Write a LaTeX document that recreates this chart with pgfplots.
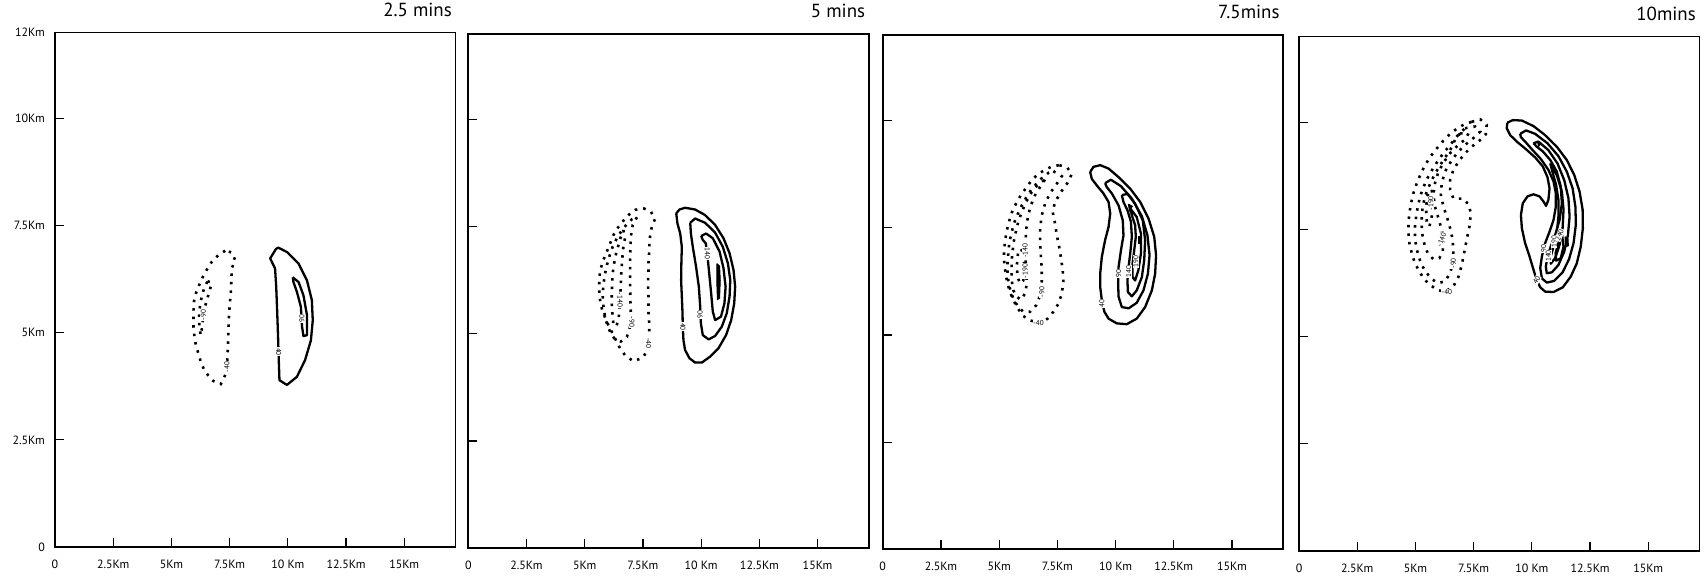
\documentclass[border=0pt]{standalone}
\usepackage{fontspec}
\setmainfont{PT Sans}
\usepackage{pgfplots}
\pgfplotsset{compat=1.18}
\pgfplotsset{
  panel/.style={scale only axis, width=400.5bp, height=514.5bp,
    xmin=0, xmax=17.2, ymin=0, ymax=12, anchor=south west, clip=false,
    axis line style={line width=1.9bp},
    tick align=inside, tick pos=left, major tick length=9bp,
    every tick/.style={black, line width=1.2bp},
    xtick={0,2.5,5,7.5,10,12.5,15},
    xticklabels={0,2.5Km,5Km,7.5Km,10 Km,12.5Km,15Km},
    ytick={0,2.5,5,7.5,10,12},
    yticklabels={0,2.5Km,5Km,7.5Km,10Km,12Km},
    ticklabel style={font=\fontsize{12}{12}\selectfont},
    xticklabel style={anchor=base, inner sep=0pt, yshift=-21bp},
    yticklabel style={anchor=east, inner sep=0pt, xshift=-10bp},
    title style={at={(1,1)}, anchor=base east, inner sep=0pt, xshift=-3.5bp, yshift=10bp, font=\fontsize{19}{22}\selectfont},
  },
  pos/.style={draw=black, line width=2.3bp, line join=round, mark=none},
  neg/.style={draw=black, line width=2.6bp, dash pattern=on 2.5bp off 6bp, mark=none},
  blob/.style={draw=black, fill=black, line width=1bp, mark=none},
}
\tikzset{clab/.style={font=\fontsize{7.2}{7.2}\selectfont, fill=white, inner sep=0.6bp}}
\begin{document}
\begin{tikzpicture}
\path[use as bounding box] (0bp,0bp) rectangle (1706bp,-579bp);

% ---------------- Panel 1: 2.5 mins
\begin{axis}[panel, at={(55bp,-547bp)}, title={2.5 mins}]
\addplot[pos] coordinates {(9.50,6.96)(9.24,6.73)(9.45,6.50)(9.50,6.07)(9.54,5.52)(9.58,4.90)(9.61,4.36)(9.64,3.89)(9.96,3.78)(10.39,3.97)(10.74,4.36)(10.99,4.82)(11.07,5.29)(11.03,5.76)(10.82,6.22)(10.46,6.61)(9.96,6.88)(9.60,6.98)(9.50,6.96)};
\addplot[pos] coordinates {(10.21,6.29)(10.46,6.18)(10.67,5.87)(10.82,5.41)(10.82,4.94)(10.67,4.92)(10.61,5.14)(10.56,5.60)(10.39,5.95)(10.24,6.18)(10.21,6.29)};
\addplot[neg] coordinates {(7.31,6.91)(7.02,6.81)(6.73,6.65)(6.52,6.47)(6.35,6.30)(6.20,6.12)(6.06,5.93)(5.97,5.73)(5.95,5.52)(5.95,5.31)(5.95,5.12)(5.99,4.90)(6.05,4.71)(6.16,4.51)(6.26,4.32)(6.40,4.14)(6.62,3.97)(6.80,3.87)(7.12,3.80)(7.38,4.09)(7.41,4.47)(7.44,4.89)(7.46,5.29)(7.51,5.70)(7.55,5.91)(7.58,6.30)(7.59,6.50)(7.74,6.69)(7.59,6.87)(7.31,6.91)};
\addplot[neg] coordinates {(6.55,6.20)(6.73,6.16)(6.63,5.95)(6.52,5.76)(6.40,5.52)(6.35,5.29)(6.30,5.06)(6.26,4.94)(6.20,5.14)(6.19,5.41)(6.23,5.64)(6.30,5.83)(6.40,6.03)(6.55,6.20)};
\node[clab, rotate=-90] at (axis cs:9.60,4.55) {40};
\node[clab, rotate=90] at (axis cs:10.60,5.33) {90};
\node[clab, rotate=90] at (axis cs:6.37,5.41) {-90};
\node[clab, rotate=90] at (axis cs:7.38,4.20) {-40};
\end{axis}

% ---------------- Panel 2: 5 mins
\begin{axis}[panel, at={(468.3bp,-548.2bp)}, title={5 mins}, yticklabels={}]
\addplot[pos] coordinates {(8.93,7.81)(8.98,7.58)(9.10,7.34)(9.17,7.03)(9.15,6.64)(9.14,6.25)(9.17,5.87)(9.20,5.48)(9.21,5.17)(9.24,4.85)(9.31,4.62)(9.50,4.43)(9.74,4.33)(10.03,4.33)(10.39,4.47)(10.74,4.66)(11.07,4.97)(11.29,5.32)(11.42,5.71)(11.46,6.10)(11.39,6.49)(11.22,6.88)(10.96,7.23)(10.60,7.54)(10.17,7.77)(9.74,7.90)(9.31,7.94)(9.07,7.90)(8.93,7.81)};
\addplot[pos] coordinates {(9.53,7.59)(9.74,7.69)(10.17,7.59)(10.60,7.36)(10.93,7.03)(11.15,6.64)(11.25,6.25)(11.22,5.87)(11.10,5.48)(10.89,5.17)(10.60,4.95)(10.32,4.87)(10.07,4.97)(9.99,5.24)(9.96,5.63)(9.90,6.10)(9.78,6.57)(9.64,7.03)(9.56,7.34)(9.53,7.59)};
\addplot[pos] coordinates {(10.00,7.28)(10.21,7.34)(10.50,7.23)(10.79,6.92)(10.96,6.53)(11.05,6.10)(11.00,5.71)(10.85,5.40)(10.60,5.32)(10.50,5.52)(10.43,5.94)(10.36,6.33)(10.29,6.72)(10.20,7.11)(10.07,7.19)(10.00,7.28)};
\addplot[blob] coordinates {(10.67,6.64)(10.79,6.58)(10.82,6.25)(10.79,5.83)(10.70,5.80)(10.67,6.25)(10.67,6.64)};
\addplot[neg] coordinates {(7.52,7.93)(7.84,7.85)(8.02,7.68)(7.88,7.50)(7.81,7.30)(7.78,7.11)(7.77,6.92)(7.74,6.68)(7.74,6.49)(7.72,6.25)(7.72,6.06)(7.74,5.86)(7.74,5.67)(7.74,5.48)(7.77,5.24)(7.77,5.01)(7.71,4.62)(7.48,4.44)(7.09,4.36)(6.73,4.50)(6.48,4.70)(6.28,4.92)(6.12,5.09)(5.95,5.28)(5.80,5.48)(5.69,5.67)(5.63,5.90)(5.62,6.10)(5.63,6.33)(5.69,6.53)(5.80,6.72)(5.95,6.92)(6.09,7.11)(6.23,7.30)(6.40,7.46)(6.63,7.62)(6.88,7.77)(7.16,7.89)(7.52,7.93)};
\addplot[neg] coordinates {(7.24,7.72)(7.06,7.54)(6.99,7.30)(6.96,7.03)(6.95,6.72)(6.95,6.41)(6.95,6.10)(6.96,5.79)(6.98,5.48)(6.95,5.17)(6.81,4.93)(6.55,4.82)(6.30,4.87)(6.12,5.01)(5.97,5.20)(5.86,5.44)(5.80,5.67)(5.77,5.90)(5.80,6.14)(5.86,6.37)(5.95,6.60)(6.06,6.81)(6.20,7.03)(6.38,7.23)(6.59,7.41)(6.81,7.56)(7.02,7.67)(7.24,7.72)};
\addplot[neg] coordinates {(6.66,7.42)(6.73,7.23)(6.66,7.03)(6.62,6.80)(6.59,6.57)(6.56,6.33)(6.55,6.10)(6.52,5.86)(6.49,5.55)(6.45,5.32)(6.35,5.17)(6.23,5.24)(6.19,5.48)(6.16,5.71)(6.16,5.94)(6.18,6.18)(6.20,6.41)(6.26,6.64)(6.35,6.88)(6.45,7.07)(6.55,7.26)(6.63,7.38)(6.66,7.42)};
\node[clab, rotate=-90] at (axis cs:9.21,5.16) {40};
\node[clab, rotate=90] at (axis cs:9.96,5.44) {90};
\node[clab, rotate=-90] at (axis cs:10.27,6.88) {140};
\node[clab, rotate=-90] at (axis cs:7.74,4.78) {-40};
\node[clab, rotate=-90] at (axis cs:7.02,5.28) {-90};
\node[clab, rotate=-90] at (axis cs:6.52,5.79) {-140};
\end{axis}

% ---------------- Panel 3: 7.5mins
\begin{axis}[panel, at={(882.7bp,-549.3bp)}, title={7.5mins}, yticklabels={}]
\addplot[pos] coordinates {(8.91,8.80)(9.05,8.92)(9.34,8.96)(9.70,8.88)(10.13,8.68)(10.63,8.41)(11.06,8.10)(11.42,7.71)(11.66,7.29)(11.74,6.86)(11.70,6.43)(11.56,6.04)(11.27,5.65)(10.91,5.38)(10.48,5.25)(10.05,5.27)(9.70,5.38)(9.52,5.54)(9.41,5.81)(9.34,6.12)(9.34,6.43)(9.41,6.82)(9.55,7.21)(9.70,7.52)(9.77,7.83)(9.70,8.10)(9.48,8.30)(9.19,8.49)(8.98,8.64)(8.91,8.80)};
\addplot[pos] coordinates {(9.55,8.54)(9.80,8.62)(10.23,8.47)(10.70,8.18)(11.13,7.77)(11.37,7.32)(11.46,6.86)(11.39,6.43)(11.20,6.04)(10.91,5.75)(10.56,5.62)(10.27,5.65)(10.13,5.89)(10.11,6.20)(10.13,6.59)(10.23,6.97)(10.34,7.32)(10.31,7.67)(10.13,8.02)(9.84,8.30)(9.62,8.45)(9.55,8.54)};
\addplot[pos] coordinates {(10.27,8.26)(10.51,8.29)(10.84,8.06)(11.17,7.67)(11.27,7.21)(11.23,6.74)(11.13,6.35)(10.91,6.04)(10.70,5.90)(10.53,6.00)(10.51,6.27)(10.56,6.59)(10.63,6.90)(10.70,7.29)(10.66,7.64)(10.51,7.91)(10.34,8.10)(10.27,8.26)};
\addplot[pos] coordinates {(10.63,7.95)(10.91,7.75)(11.09,7.36)(11.09,6.90)(10.98,6.51)(10.84,6.27)(10.73,6.35)(10.73,6.66)(10.80,6.97)(10.87,7.29)(10.84,7.56)(10.70,7.79)(10.63,7.95)};
\addplot[blob] coordinates {(10.98,7.30)(11.13,7.30)(11.13,7.14)(10.98,7.14)(10.98,7.30)};
\addplot[blob] coordinates {(10.55,8.05)(10.72,8.00)(10.60,7.90)(10.55,8.05)};
\addplot[neg] coordinates {(7.59,8.96)(7.93,8.90)(8.12,8.75)(7.93,8.54)(7.69,8.36)(7.40,8.10)(7.30,7.87)(7.40,7.60)(7.48,7.32)(7.58,7.05)(7.66,6.78)(7.73,6.51)(7.76,6.24)(7.69,5.96)(7.55,5.73)(7.33,5.54)(7.08,5.38)(6.76,5.27)(6.33,5.34)(6.04,5.44)(5.76,5.65)(5.58,5.85)(5.44,6.04)(5.33,6.27)(5.26,6.51)(5.21,6.74)(5.21,6.97)(5.26,7.21)(5.33,7.44)(5.44,7.67)(5.58,7.91)(5.76,8.10)(5.97,8.29)(6.19,8.45)(6.40,8.61)(6.69,8.76)(6.97,8.85)(7.26,8.93)(7.59,8.96)};
\addplot[neg] coordinates {(7.33,8.82)(7.69,8.70)(7.48,8.53)(7.19,8.31)(6.97,8.06)(6.83,7.79)(6.76,7.48)(6.76,7.17)(6.79,6.86)(6.83,6.55)(6.83,6.24)(6.76,5.92)(6.59,5.69)(6.33,5.54)(6.04,5.54)(5.83,5.65)(5.64,5.81)(5.50,6.00)(5.40,6.24)(5.36,6.47)(5.36,6.70)(5.40,6.94)(5.44,7.17)(5.54,7.40)(5.64,7.61)(5.79,7.81)(5.97,8.02)(6.16,8.20)(6.36,8.37)(6.62,8.54)(6.87,8.68)(7.12,8.78)(7.33,8.82)};
\addplot[neg] coordinates {(6.97,8.62)(6.76,8.45)(6.54,8.26)(6.36,8.02)(6.23,7.75)(6.16,7.44)(6.13,7.13)(6.13,6.82)(6.16,6.51)(6.19,6.20)(6.11,5.96)(5.93,5.82)(5.76,5.89)(5.61,6.04)(5.54,6.27)(5.53,6.51)(5.54,6.74)(5.58,6.97)(5.64,7.21)(5.73,7.44)(5.84,7.67)(5.99,7.89)(6.16,8.10)(6.33,8.28)(6.54,8.43)(6.76,8.55)(6.97,8.62)};
\addplot[neg] coordinates {(6.04,6.90)(6.07,6.59)(6.04,6.27)(5.90,6.20)(5.79,6.35)(5.76,6.62)(5.81,6.90)(5.93,7.01)(6.04,6.90)};
\node[clab, rotate=90] at (axis cs:9.41,5.73) {40};
\node[clab, rotate=90] at (axis cs:10.13,6.43) {90};
\node[clab, rotate=90] at (axis cs:10.56,6.47) {140};
\node[clab, rotate=90] at (axis cs:10.87,6.72) {190};
\node[clab] at (axis cs:6.69,5.27) {-40};
\node[clab, rotate=90] at (axis cs:6.83,6.00) {-90};
\node[clab, rotate=90] at (axis cs:6.12,6.97) {-140};
\node[clab, rotate=90] at (axis cs:6.12,6.49) {-190};
\end{axis}

% ---------------- Panel 4: 10mins
\begin{axis}[panel, at={(1299bp,-551bp)}, title={10mins}, yticklabels={}]
\addplot[pos] coordinates {(8.95,9.99)(9.18,10.05)(9.57,10.04)(10.07,9.91)(10.57,9.70)(11.07,9.43)(11.50,9.12)(11.82,8.77)(12.05,8.38)(12.18,7.96)(12.19,7.53)(12.10,7.10)(11.93,6.71)(11.67,6.40)(11.33,6.15)(10.93,6.04)(10.57,6.05)(10.36,6.15)(10.21,6.32)(10.07,6.56)(9.90,6.87)(9.71,7.18)(9.57,7.53)(9.53,7.84)(9.61,8.11)(9.81,8.27)(10.07,8.32)(10.33,8.27)(10.50,8.15)(10.61,8.05)(10.71,8.19)(10.76,8.46)(10.67,8.72)(10.47,8.97)(10.14,9.18)(9.75,9.37)(9.35,9.55)(9.07,9.70)(8.92,9.86)(8.95,9.99)};
\addplot[pos] coordinates {(9.50,9.73)(9.75,9.81)(10.14,9.73)(10.67,9.51)(11.14,9.21)(11.50,8.85)(11.75,8.46)(11.87,8.03)(11.89,7.61)(11.79,7.18)(11.60,6.81)(11.32,6.50)(10.96,6.30)(10.64,6.26)(10.43,6.36)(10.36,6.60)(10.43,6.87)(10.57,7.18)(10.76,7.45)(10.93,7.72)(11.03,8.03)(11.03,8.34)(10.93,8.62)(10.71,8.89)(10.39,9.14)(10.00,9.37)(9.71,9.55)(9.53,9.65)(9.50,9.73)};
\addplot[pos] coordinates {(10.07,9.51)(10.28,9.55)(10.71,9.35)(11.10,9.04)(11.39,8.65)(11.57,8.23)(11.62,7.80)(11.55,7.37)(11.39,6.98)(11.14,6.67)(10.86,6.50)(10.64,6.48)(10.60,6.63)(10.67,6.87)(10.81,7.10)(11.00,7.37)(11.19,7.72)(11.29,8.11)(11.24,8.50)(11.07,8.85)(10.79,9.12)(10.47,9.32)(10.21,9.43)(10.07,9.51)};
\addplot[pos] coordinates {(10.79,9.04)(11.07,8.77)(11.29,8.38)(11.36,7.96)(11.32,7.53)(11.19,7.14)(11.00,6.83)(10.81,6.70)(10.81,6.87)(10.93,7.10)(11.07,7.41)(11.14,7.80)(11.14,8.19)(11.04,8.54)(10.90,8.81)(10.79,9.04)};
\addplot[pos] coordinates {(11.29,7.41)(11.36,7.10)(11.24,6.83)(11.04,6.77)(11.02,6.95)(11.14,7.18)(11.29,7.41)};
\addplot[blob] coordinates {(11.43,7.33)(11.55,7.28)(11.57,7.12)(11.47,7.10)(11.43,7.20)(11.43,7.33)};
\addplot[blob] coordinates {(10.25,9.55)(10.38,9.50)(10.28,9.43)(10.25,9.55)};
\addplot[neg] coordinates {(7.42,10.01)(7.78,10.07)(8.06,9.94)(8.02,9.72)(7.75,9.57)(7.42,9.43)(7.10,9.26)(6.85,9.08)(6.63,8.89)(6.49,8.66)(6.49,8.42)(6.63,8.22)(7.03,8.22)(7.28,8.09)(7.38,7.87)(7.32,7.57)(7.20,7.26)(7.09,6.95)(6.99,6.67)(6.85,6.40)(6.63,6.17)(6.27,6.05)(5.92,6.09)(5.63,6.21)(5.37,6.34)(5.17,6.52)(4.98,6.71)(4.84,6.95)(4.74,7.18)(4.70,7.41)(4.70,7.65)(4.74,7.88)(4.81,8.11)(4.91,8.34)(5.06,8.58)(5.23,8.80)(5.41,9.00)(5.66,9.21)(5.92,9.39)(6.20,9.57)(6.49,9.73)(6.80,9.86)(7.13,9.96)(7.42,10.01)};
\addplot[neg] coordinates {(7.13,9.86)(7.56,9.90)(7.78,9.78)(7.49,9.63)(7.13,9.47)(6.80,9.29)(6.52,9.08)(6.27,8.85)(6.13,8.58)(6.09,8.31)(6.20,8.03)(6.35,7.80)(6.49,7.53)(6.60,7.26)(6.63,6.98)(6.60,6.71)(6.49,6.48)(6.27,6.29)(5.99,6.25)(5.70,6.34)(5.46,6.50)(5.27,6.67)(5.13,6.88)(5.03,7.10)(4.98,7.33)(4.98,7.57)(5.03,7.80)(5.10,8.03)(5.20,8.27)(5.34,8.48)(5.51,8.69)(5.72,8.89)(5.94,9.08)(6.20,9.28)(6.49,9.47)(6.78,9.67)(7.13,9.86)};
\addplot[neg] coordinates {(6.92,9.74)(7.28,9.74)(7.13,9.60)(6.80,9.45)(6.49,9.28)(6.23,9.08)(5.99,8.85)(5.84,8.58)(5.77,8.31)(5.84,8.03)(5.99,7.76)(6.13,7.49)(6.20,7.22)(6.17,6.98)(6.03,6.83)(5.77,6.81)(5.56,6.91)(5.41,7.10)(5.31,7.33)(5.27,7.57)(5.27,7.80)(5.31,8.03)(5.41,8.27)(5.56,8.48)(5.74,8.69)(5.94,8.89)(6.20,9.12)(6.49,9.35)(6.70,9.59)(6.92,9.74)};
\addplot[neg] coordinates {(5.70,8.42)(5.77,8.11)(5.70,7.80)(5.60,7.57)(5.49,7.65)(5.46,7.96)(5.49,8.23)(5.60,8.41)(5.70,8.42)};
\node[clab, rotate=60] at (axis cs:10.21,6.32) {40};
\node[clab, rotate=90] at (axis cs:10.50,7.06) {90};
\node[clab, rotate=90] at (axis cs:10.71,6.88) {140};
\node[clab, rotate=90] at (axis cs:10.96,7.22) {190};
\node[clab, rotate=70] at (axis cs:11.19,7.37) {240};
\node[clab] at (axis cs:6.35,6.03) {-40};
\node[clab, rotate=90] at (axis cs:6.63,6.71) {-90};
\node[clab, rotate=70] at (axis cs:6.13,7.26) {-140};
\node[clab, rotate=90] at (axis cs:5.66,8.11) {-190};
\end{axis}
\end{tikzpicture}
\end{document}
